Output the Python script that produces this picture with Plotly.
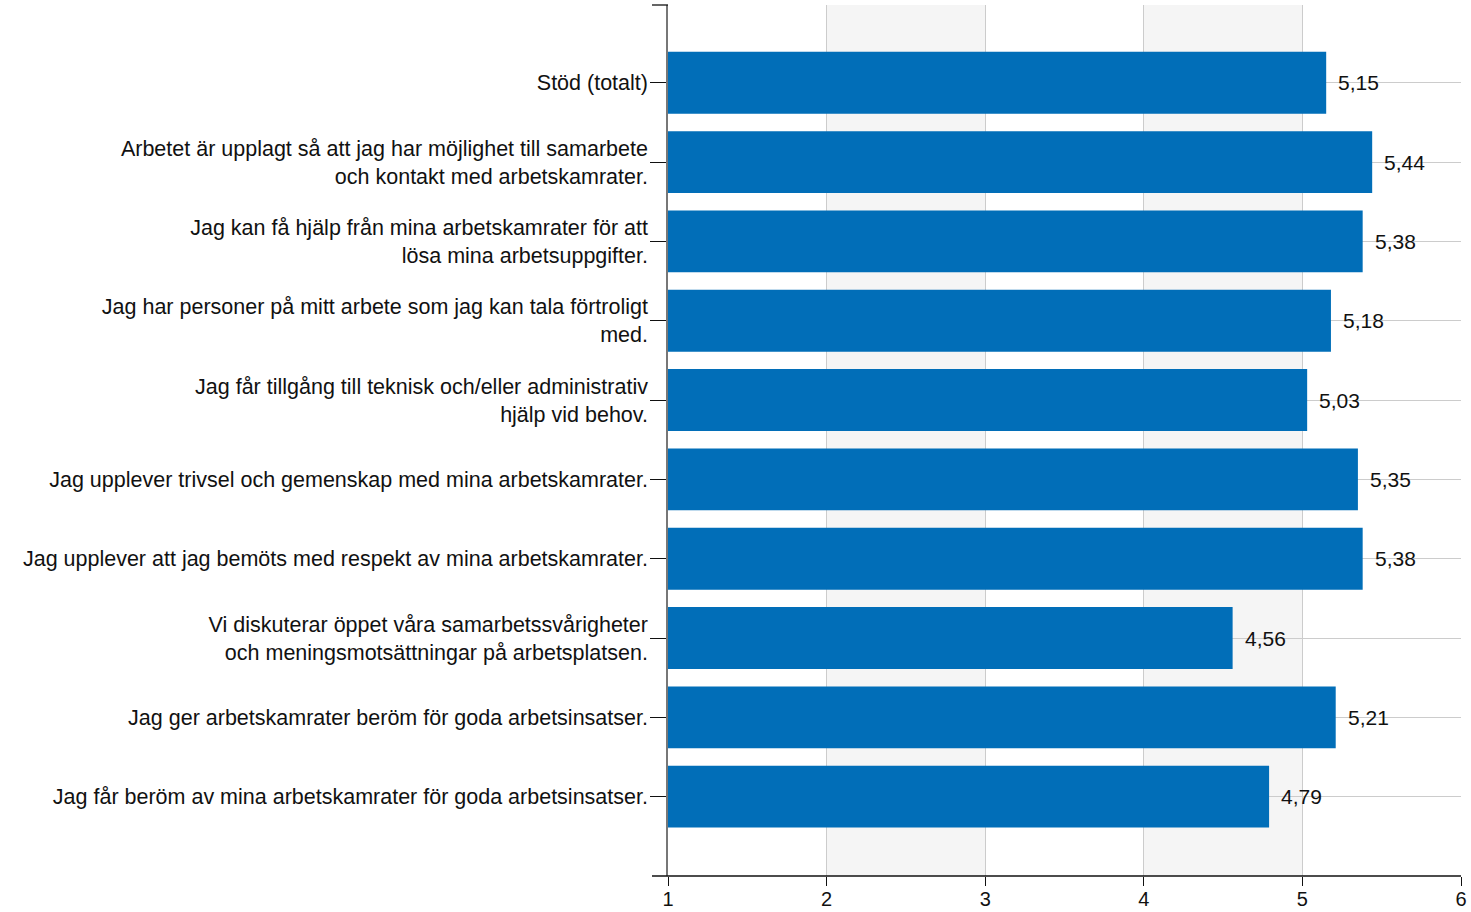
import plotly.graph_objects as go

categories = [
    "Stöd (totalt)",
    "Arbetet är upplagt så att jag har möjlighet till samarbete<br>och kontakt med arbetskamrater.",
    "Jag kan få hjälp från mina arbetskamrater för att<br>lösa mina arbetsuppgifter.",
    "Jag har personer på mitt arbete som jag kan tala förtroligt<br>med.",
    "Jag får tillgång till teknisk och/eller administrativ<br>hjälp vid behov.",
    "Jag upplever trivsel och gemenskap med mina arbetskamrater.",
    "Jag upplever att jag bemöts med respekt av mina arbetskamrater.",
    "Vi diskuterar öppet våra samarbetssvårigheter<br>och meningsmotsättningar på arbetsplatsen.",
    "Jag ger arbetskamrater beröm för goda arbetsinsatser.",
    "Jag får beröm av mina arbetskamrater för goda arbetsinsatser.",
]
values = [5.15, 5.44, 5.38, 5.18, 5.03, 5.35, 5.38, 4.56, 5.21, 4.79]
x_ticks = [1, 2, 3, 4, 5, 6]
bands = [(2, 3), (4, 5)]
axis_start = 1

FONT = "Liberation Sans, Arial, sans-serif"
BAR = "#016eb8"
FS = 21.5

fig = go.Figure()
fig.add_trace(go.Bar(
    y=categories, x=[v - axis_start for v in values], base=axis_start, orientation="h",
    marker=dict(color=BAR, line=dict(width=0)),
    hoverinfo="skip",
))

for v, c in zip(values, categories):
    fig.add_annotation(x=v, y=c, xref="x", yref="y", text=f"{v:.2f}".replace(".", ","),
                       showarrow=False, xanchor="left", yanchor="middle", xshift=10,
                       font=dict(family=FONT, size=21, color="#111"))

for a, b in bands:
    fig.add_shape(type="rect", xref="x", yref="paper", x0=a, x1=b, y0=0, y1=1,
                  fillcolor="#f5f5f5", line=dict(width=0), layer="below")

# extended x axis line to the left and top tick
fig.add_shape(type="line", xref="paper", yref="paper", x0=-0.0202, x1=1, y0=0, y1=0,
              line=dict(color="#111", width=1.3))
fig.add_shape(type="line", xref="paper", yref="paper", x0=-0.0202, x1=0, y0=1, y1=1,
              line=dict(color="#111", width=1.3))

fig.update_layout(
    width=1471, height=912,
    margin=dict(l=668, r=10, t=5, b=36, autoexpand=False),
    plot_bgcolor="white", paper_bgcolor="white",
    bargap=0.22, showlegend=False,
    font=dict(family=FONT, size=FS, color="#111"),
    xaxis=dict(range=[1, 6], tickvals=x_ticks, ticktext=[str(t) for t in x_ticks],
               showgrid=True, gridcolor="#cccccc", gridwidth=1,
               ticks="outside", ticklen=9, tickcolor="#111", tickwidth=1.3,
               showline=False, zeroline=False, fixedrange=True, automargin=False,
               ticklabelstandoff=-4,
               tickfont=dict(family=FONT, size=20, color="#111")),
    yaxis=dict(categoryorder="array", categoryarray=categories,
               range=[10.0, -0.98], showgrid=True, gridcolor="#cccccc", gridwidth=1,
               ticks="outside", ticklen=16, tickcolor="#111", tickwidth=1.3,
               showline=True, linecolor="#777777", linewidth=1.5,
               zeroline=False, fixedrange=True, ticklabelstandoff=-2, automargin=False,
               tickfont=dict(family=FONT, size=FS, color="#111")),
)

fig.write_html("out.html", config={"displayModeBar": False},
               post_script="document.body.style.margin='0';document.body.style.overflow='hidden';")
